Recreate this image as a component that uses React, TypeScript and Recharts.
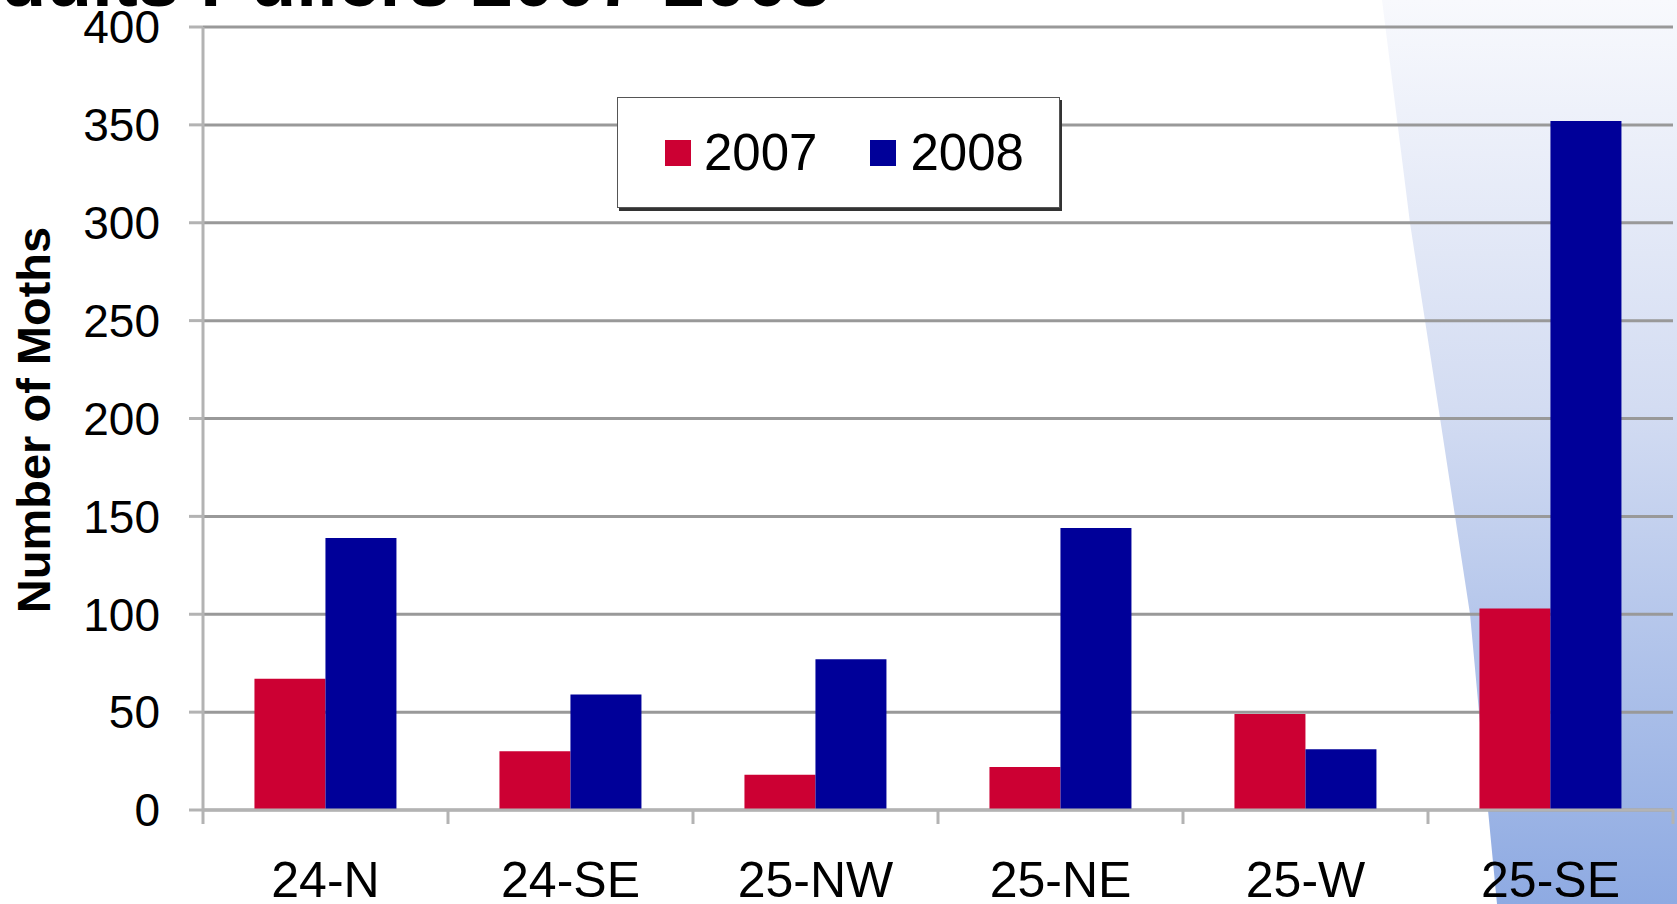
import React from 'react'
import { BarChart, Bar, XAxis, YAxis, CartesianGrid, Legend } from 'recharts'

// Trap sites and moth counts per year
const sites = ['24-N', '24-SE', '25-NW', '25-NE', '25-W', '25-SE']
const moths2007 = [67, 30, 18, 22, 49, 103]
const moths2008 = [139, 59, 77, 144, 31, 352]
const yTicks = [0, 50, 100, 150, 200, 250, 300, 350, 400]

const data = sites.map((site, i) => ({ site, y2007: moths2007[i], y2008: moths2008[i] }))

const FONT = '"Liberation Sans", Arial, sans-serif'
const RED = '#cc0033'
const BLUE = '#000099'
const AXIS = '#b3b3b3'
const LABEL_GAP = 51
const MARK = 14

// category label plus tick marks on the category boundaries (Excel style)
const SiteTick = (props: any) => {
  const { x, y, payload, index, visibleTicksCount } = props
  const half = payload.offset || 0
  const axisY = y - LABEL_GAP
  return (
    <g>
      <line x1={x - half} y1={axisY} x2={x - half} y2={axisY + MARK} stroke={AXIS} strokeWidth={3} />
      {index === visibleTicksCount - 1 && (
        <line x1={x + half} y1={axisY} x2={x + half} y2={axisY + MARK} stroke={AXIS} strokeWidth={3} />
      )}
      <text x={x} y={y} dy="0.71em" textAnchor="middle" fontSize={50} fill="#000" fontFamily={FONT}>
        {payload.value}
      </text>
    </g>
  )
}

const LegendBox = () => (
  <div
    style={{
      width: 443,
      height: 111,
      boxSizing: 'border-box',
      background: '#fff',
      border: '1px solid #555',
      boxShadow: '2px 3px 0 #333',
      display: 'flex',
      alignItems: 'center',
      paddingLeft: 47,
      fontFamily: FONT,
      fontSize: 51,
      color: '#000',
    }}
  >
    <span style={{ width: 26, height: 26, background: RED, display: 'inline-block', marginRight: 13 }} />
    <span style={{ marginRight: 53 }}>2007</span>
    <span style={{ width: 26, height: 26, background: BLUE, display: 'inline-block', marginRight: 14 }} />
    <span>2008</span>
  </div>
)

const App = () => {
  return (
    <div style={{ position: 'absolute', left: 0, top: 0, width: 1677, height: 904, overflow: 'hidden', background: '#fff' }}>
      {/* background swoosh and cut-off title */}
      <svg width={1677} height={904} style={{ position: 'absolute', left: 0, top: 0 }}>
        <defs>
          <linearGradient id="swoosh" x1="0" y1="0" x2="0" y2="1">
            <stop offset="0%" stopColor="#f8f9fd" />
            <stop offset="45%" stopColor="#d3dcf2" />
            <stop offset="100%" stopColor="#8eaae2" />
          </linearGradient>
        </defs>
        <polygon points="1382,0 1410,223 1440,418 1470,614 1488,810 1497,904 1677,904 1677,0" fill="url(#swoosh)" />
        <text x={830} y={6} textAnchor="end" fontFamily={FONT} fontWeight="bold" fontSize={75} fill="#000">
          Adults Pullers 2007-2008
        </text>
        <text
          x={0}
          y={0}
          transform="translate(50,420) rotate(-90)"
          textAnchor="middle"
          fontFamily={FONT}
          fontWeight="bold"
          fontSize={47}
          fill="#000"
        >
          Number of Moths
        </text>
      </svg>
      <div style={{ position: 'absolute', left: 0, top: 0 }}>
        <BarChart
          width={1677}
          height={904}
          data={data}
          margin={{ top: 27, right: 4, bottom: 0, left: 0 }}
          barCategoryGap="21%"
          barGap={0}
          style={{ fontFamily: FONT }}
        >
          <CartesianGrid vertical={false} stroke="#999" strokeWidth={3} />
          <XAxis
            dataKey="site"
            height={94}
            stroke={AXIS}
            strokeWidth={3}
            tickLine={false}
            tickSize={0}
            tickMargin={LABEL_GAP}
            tick={<SiteTick />}
          />
          <YAxis
            width={203}
            domain={[0, 400]}
            ticks={yTicks}
            tickSize={MARK}
            tickMargin={29}
            stroke={AXIS}
            strokeWidth={3}
            tick={{ fontSize: 46, fill: '#000' }}
          />
          <Legend
            layout="horizontal"
            verticalAlign="middle"
            align="center"
            content={() => <LegendBox />}
            wrapperStyle={{ left: 617, top: 97, width: 443 }}
          />
          <Bar dataKey="y2007" name="2007" fill={RED} isAnimationActive={false} />
          <Bar dataKey="y2008" name="2008" fill={BLUE} isAnimationActive={false} />
        </BarChart>
      </div>
    </div>
  )
}

export default App
